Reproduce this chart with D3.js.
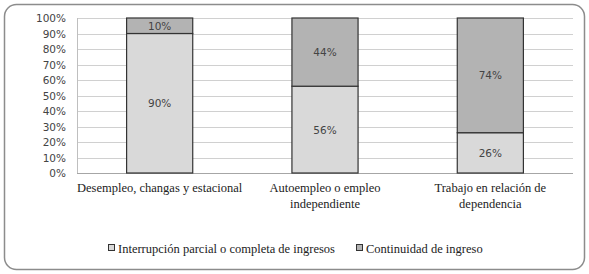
<!DOCTYPE html>
<html>
<head>
<meta charset="utf-8">
<script src="https://cdn.jsdelivr.net/npm/d3@7"></script>
<style>
  body { margin: 0; background: #fff; }
  svg { display: block; }
  .serif { font-family: 'Liberation Serif', 'Times New Roman', serif; }
  .sans { font-family: 'DejaVu Sans', sans-serif; }
</style>
</head>
<body>
<svg id="chart" width="589" height="274"></svg>
<script>
const categories = [
  ['Desempleo, changas y estacional'],
  ['Autoempleo o empleo', 'independiente'],
  ['Trabajo en relación de', 'dependencia']
];
const interrupcion = [90, 56, 26];
const continuidad = [10, 44, 74];
const seriesNames = ['Interrupción parcial o completa de ingresos', 'Continuidad de ingreso'];
const seriesColors = ['#d9d9d9', '#b3b3b3'];
const yTicks = [0, 10, 20, 30, 40, 50, 60, 70, 80, 90, 100];

let svg = d3.select('#chart');

let margin = { top: 18, left: 77, right: 16, bottom: 101 };
let width = 589, height = 274;

// outer frame
svg.append('rect')
  .attr('x', 4.5).attr('y', 4.5)
  .attr('width', 580).attr('height', 265)
  .attr('rx', 12)
  .attr('fill', '#fff')
  .attr('stroke', '#8c8c8c')
  .attr('stroke-width', 1.5);

let xScale = d3.scaleBand()
  .domain(d3.range(categories.length))
  .range([margin.left, width - margin.right])
  .paddingInner(0.6)
  .paddingOuter(0.3);

let yScale = d3.scaleLinear()
  .domain([0, 100])
  .range([height - margin.bottom, margin.top]);

// gridlines
svg.selectAll('.grid')
  .data(yTicks)
  .enter()
  .append('line')
  .attr('class', 'grid')
  .attr('x1', margin.left)
  .attr('x2', width - margin.right)
  .attr('y1', d => Math.round(yScale(d)) + 0.5)
  .attr('y2', d => Math.round(yScale(d)) + 0.5)
  .attr('stroke', d => d == 0 ? '#a6a6a6' : '#d0d0d0')
  .attr('stroke-width', 1);

svg.append('line')
  .attr('x1', margin.left + 0.5).attr('x2', margin.left + 0.5)
  .attr('y1', yScale(100)).attr('y2', yScale(0))
  .attr('stroke', '#bfbfbf');

// y axis labels
svg.selectAll('.ytick')
  .data(yTicks)
  .enter()
  .append('text')
  .attr('class', 'ytick sans')
  .attr('x', margin.left - 11)
  .attr('y', d => yScale(d) + 4)
  .attr('text-anchor', 'end')
  .attr('font-size', 10.5)
  .attr('fill', '#444')
  .text(d => d + '%');

// stacked bars
let stackData = categories.map((c, i) => ({ i: i, a: interrupcion[i], b: continuidad[i] }));
let stacked = d3.stack().keys(['a', 'b'])(stackData);

let layer = svg.selectAll('.layer')
  .data(stacked)
  .enter()
  .append('g')
  .attr('class', 'layer')
  .attr('fill', (d, k) => seriesColors[k]);

layer.selectAll('rect')
  .data(d => d)
  .enter()
  .append('rect')
  .attr('x', d => xScale(d.data.i))
  .attr('y', d => yScale(d[1]))
  .attr('width', xScale.bandwidth())
  .attr('height', d => yScale(d[0]) - yScale(d[1]))
  .attr('stroke', '#333')
  .attr('stroke-width', 1.2);

layer.selectAll('text')
  .data(d => d)
  .enter()
  .append('text')
  .attr('class', 'sans')
  .attr('x', d => xScale(d.data.i) + xScale.bandwidth() / 2)
  .attr('y', d => (yScale(d[0]) + yScale(d[1])) / 2 + 4)
  .attr('text-anchor', 'middle')
  .attr('font-size', 10.5)
  .attr('fill', '#444')
  .text(d => (d[1] - d[0]) + '%');

// category labels
svg.selectAll('.cat')
  .data(categories)
  .enter()
  .append('text')
  .attr('class', 'cat serif')
  .attr('text-anchor', 'middle')
  .attr('font-size', 12.5)
  .attr('fill', '#222')
  .each(function (d, i) {
    d3.select(this).selectAll('tspan')
      .data(d)
      .enter()
      .append('tspan')
      .attr('x', xScale(i) + xScale.bandwidth() / 2)
      .attr('y', (t, j) => 192 + j * 16)
      .text(t => t);
  });

// legend
let legendX = [108, 356];
let legend = svg.selectAll('.legend')
  .data(seriesNames)
  .enter()
  .append('g')
  .attr('class', 'legend')
  .attr('transform', (d, i) => `translate(${legendX[i]},253)`);

legend.append('rect')
  .attr('x', 0.5).attr('y', -8.5)
  .attr('width', 6).attr('height', 6)
  .attr('fill', (d, i) => seriesColors[i])
  .attr('stroke', '#333');

legend.append('text')
  .attr('class', 'serif')
  .attr('x', 10)
  .attr('y', 0)
  .attr('font-size', 12.5)
  .attr('fill', '#222')
  .text(d => d);
</script>
</body>
</html>
